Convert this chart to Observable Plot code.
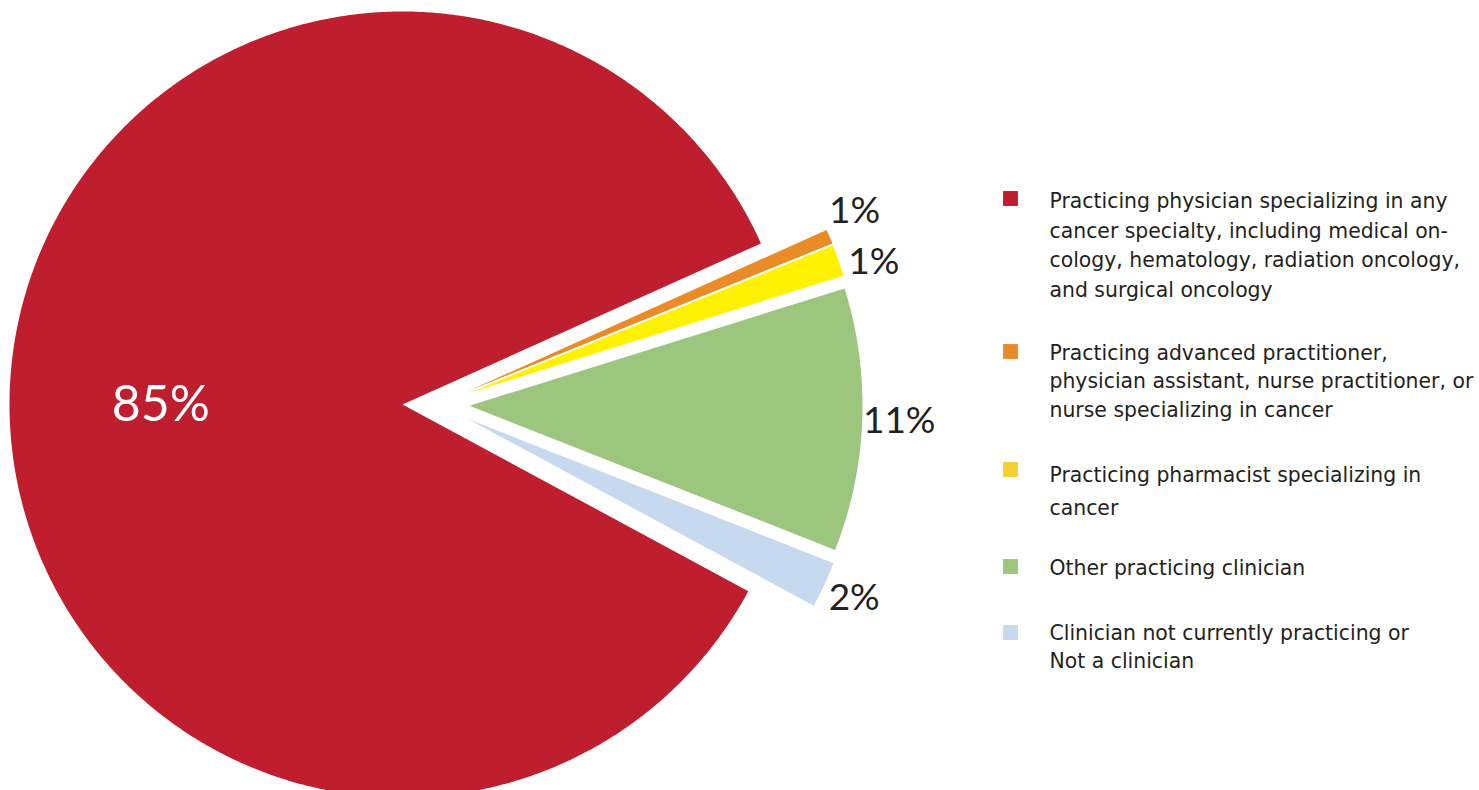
<!DOCTYPE html>
<html><head><meta charset="utf-8">
<script src="https://cdn.jsdelivr.net/npm/d3@7"></script>
<script src="https://cdn.jsdelivr.net/npm/@observablehq/plot@0.6"></script>
<style>html,body{margin:0;padding:0;background:#fff;} #chart{width:1479px;height:790px;overflow:hidden}</style>
</head><body><div id="chart"></div>
<script>
// ---- data ----
const categories = [
  "Practicing physician specializing in any\ncancer specialty, including medical on-\ncology, hematology, radiation oncology,\nand surgical oncology",
  "Practicing advanced practitioner,\nphysician assistant, nurse practitioner, or\nnurse specializing in cancer",
  "Practicing pharmacist specializing in\ncancer",
  "Other practicing clinician",
  "Clinician not currently practicing or\nNot a clinician"
];
const values = [85.4, 0.6, 1.3, 10.8, 1.9];
const valueLabels = ["85%", "1%", "1%", "11%", "2%"];
const sliceColors = ["#be1e2d", "#e98b27", "#fff200", "#9cc57d", "#c6d9ee"];
const legendColors = ["#be1e2d", "#e98b27", "#f5d033", "#9cc57d", "#c6d9ee"];

// ---- layout ----
const W = 1479, H = 790;
const cx = 402, cy = 404, R = 393;       // pie centre and radius (px)
const startDeg = 28.36;                  // screen angle where the first slice starts (clockwise)
const explode = 67;                      // explosion distance for the small slices
const labelGap = 33;                     // outside label distance beyond the rim
const minLabelSep = 7;                   // degrees
const labelFont = "Lato";
const legendFont = "DejaVu Sans";
const legendX = 1010, legendTextX = 1049, legendFS = 20.4;
const legendRows = [198, 351, 469, 566, 632];       // square centres
const legendLineHeights = [1.45, 1.39, 1.63, 1.4, 1.34];

const rad = d => d * Math.PI / 180;
const norm = d => { let a = ((d % 360) + 360) % 360; return a > 180 ? a - 360 : a; };
const total = d3.sum(values);
const iMax = d3.maxIndex(values);

let acc = startDeg;
const slices = values.map((v, i) => {
  const a0 = acc, a1 = acc + v / total * 360; acc = a1;
  const mid = norm((a0 + a1) / 2);
  const sh = i === iMax ? [0, 0] : [explode * Math.cos(rad(mid / 2)), explode * Math.sin(rad(mid / 2))];
  const ox = cx + sh[0], oy = cy + sh[1];
  const pts = [{x: ox, y: oy}];
  const n = Math.max(2, Math.ceil((a1 - a0) / 0.4));
  for (let k = 0; k <= n; k++) {
    const a = rad(a0 + (a1 - a0) * k / n);
    pts.push({x: ox + R * Math.cos(a), y: oy + R * Math.sin(a)});
  }
  return {i, a0, a1, mid, ox, oy, pts, color: sliceColors[i]};
});

// label angles with simple collision spreading
const outside = slices.filter(s => s.i !== iMax).map(s => ({s, ang: s.mid}));
outside.sort((a, b) => a.ang - b.ang);
for (let k = 0; k < outside.length - 1; k++) {
  const A = outside[k], B = outside[k + 1];
  if (B.ang - A.ang < minLabelSep) {
    const m = (A.ang + B.ang) / 2;
    A.ang = m - minLabelSep / 2; B.ang = m + minLabelSep / 2;
  }
}
const outLabels = outside.map(o => {
  const t = valueLabels[o.s.i];
  const r = R + labelGap + (t.length - 2) * 4;   // wider labels sit a bit further out
  return {x: o.s.ox + r * Math.cos(rad(o.ang)), y: o.s.oy + r * Math.sin(rad(o.ang)), text: t};
});
// largest slice: label inside, on the horizontal through the centre
const inLabel = [{x: cx - 0.615 * R, y: cy, text: valueLabels[iMax]}];

const marks = [];
slices.forEach(s => marks.push(Plot.line(s.pts, {x: "x", y: "y", fill: s.color, stroke: "none", curve: "linear-closed"})));
marks.push(Plot.text(inLabel, {x: "x", y: "y", text: "text", fill: "white", fontSize: 50, fontFamily: labelFont}));
marks.push(Plot.text(outLabels, {x: "x", y: "y", text: "text", fill: "#231f20", fontSize: 37, fontFamily: labelFont}));

const legend = categories.map((c, i) => ({c, col: legendColors[i], sy: legendRows[i], ty: legendRows[i] - 11.5}));
marks.push(Plot.dot(legend, {x: () => legendX, y: "sy", symbol: "square", r: 8.4, fill: "col", stroke: "none"}));
legend.forEach((d, i) => marks.push(Plot.text([d], {x: () => legendTextX, y: "ty", text: "c", textAnchor: "start", lineAnchor: "top",
  lineHeight: legendLineHeights[i], fontSize: legendFS, fontFamily: legendFont, fill: "#231f20"})));

const chart = Plot.plot({
  width: W, height: H, margin: 0,
  x: {domain: [0, W], range: [0, W], axis: null},
  y: {domain: [0, H], range: [0, H], axis: null},
  color: {type: "identity"},
  style: {background: "white", fontFamily: labelFont},
  marks
});
document.getElementById("chart").appendChild(chart);
</script>
</body></html>
